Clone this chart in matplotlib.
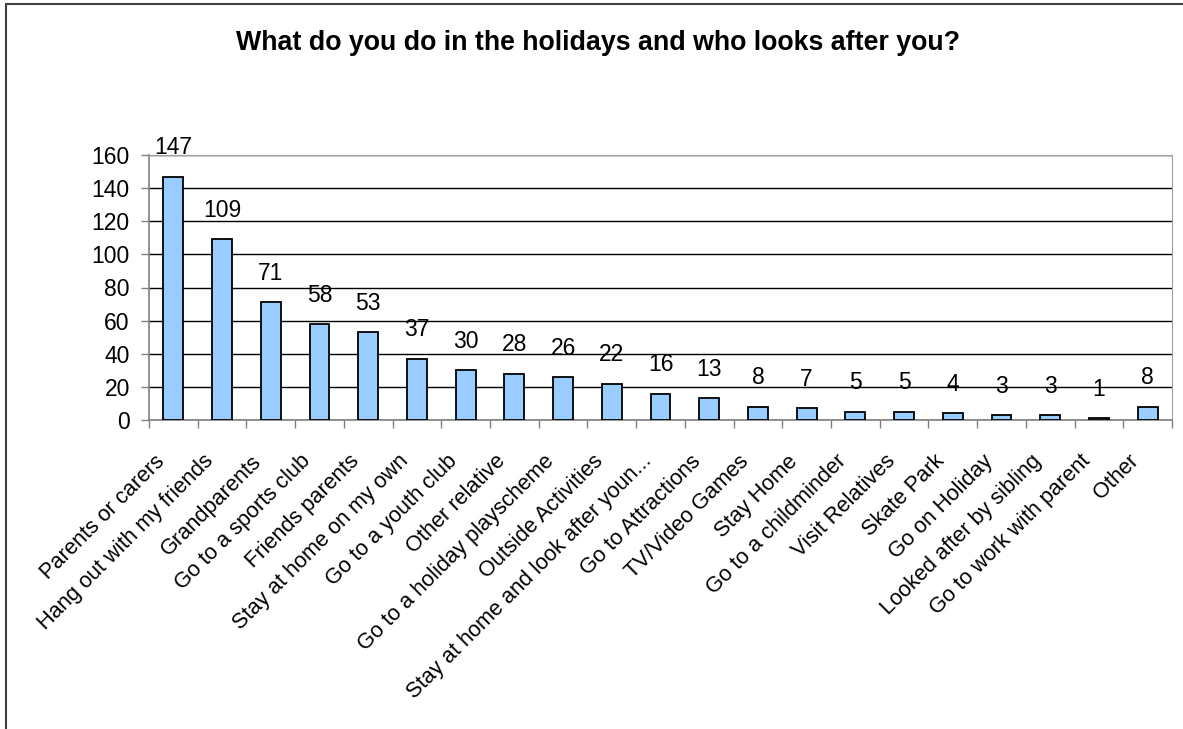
import matplotlib
matplotlib.use('Agg')
import matplotlib.pyplot as plt
import matplotlib.transforms as mtransforms
from matplotlib.patches import Rectangle

plt.rcParams['font.family'] = ['Liberation Sans', 'DejaVu Sans']

categories = ['Parents or carers', 'Hang out with my friends', 'Grandparents',
              'Go to a sports club', 'Friends parents', 'Stay at home on my own',
              'Go to a youth club', 'Other relative', 'Go to a holiday playscheme',
              'Outside Activities', 'Stay at home and look after youn...',
              'Go to Attractions', 'TV/Video Games', 'Stay Home',
              'Go to a childminder', 'Visit Relatives', 'Skate Park',
              'Go on Holiday', 'Looked after by sibling', 'Go to work with parent',
              'Other']
counts = [147, 109, 71, 58, 53, 37, 30, 28, 26, 22, 16, 13, 8, 7, 5, 5, 4, 3, 3, 1, 8]
yticks = [0, 20, 40, 60, 80, 100, 120, 140, 160]

W, H = 1183, 729
fig = plt.figure(figsize=(W / 100, H / 100), dpi=100)

# outer chart frame (right/bottom run off the canvas)
fig.patches.append(Rectangle((6 / W, -0.1), 1.2, 1 - 4 / H + 0.1,
                             transform=fig.transFigure, fill=False,
                             edgecolor='#404040', linewidth=1.5))

ax = fig.add_axes((149 / W, 1 - 420 / H, 1023 / W, 265 / H))
x = list(range(len(categories)))
ax.bar(x, counts, width=0.41, color='#99ccff', edgecolor='black', linewidth=1.3, zorder=3)

# value labels sit a fixed gap above each bar
lbl_off = mtransforms.ScaledTranslation(0, 12.5 / 72, fig.dpi_scale_trans)
for xi, c in zip(x, counts):
    ax.text(xi, c, str(c), ha='center', va='bottom', fontsize=16.5, zorder=4,
            transform=ax.transData + lbl_off)

ax.set_xlim(-0.5, len(categories) - 0.5)
ax.set_ylim(0, 160)
ax.set_yticks(yticks)
ax.yaxis.grid(True, color='black', linewidth=1)
ax.set_axisbelow(True)
ax.tick_params(axis='y', labelsize=16.5, direction='out', length=5.8, width=1,
               color='#808080', pad=8)

ax.set_xticks([i - 0.5 for i in range(len(categories) + 1)])
ax.set_xticklabels([])
ax.tick_params(axis='x', direction='out', length=5.8, width=1, color='#808080')

# rotated category names hung below the axis
cat_off = mtransforms.ScaledTranslation(-8.6 / 72, -27.5 / 72, fig.dpi_scale_trans)
for xi, name in zip(x, categories):
    ax.text(xi, 0, name, rotation=45, rotation_mode='anchor', ha='right', va='center',
            fontsize=15.7, transform=ax.get_xaxis_transform() + cat_off, clip_on=False)

for side in ['top', 'right']:
    ax.spines[side].set_color('#a0a0a0')
for side in ['left', 'bottom']:
    ax.spines[side].set_color('#808080')
    ax.spines[side].set_linewidth(1.2)

fig.text(598 / W, 1 - 43 / H, 'What do you do in the holidays and who looks after you?',
         ha='center', va='center', fontsize=19.3, fontweight='bold')

fig.savefig('out.png', dpi=100)
